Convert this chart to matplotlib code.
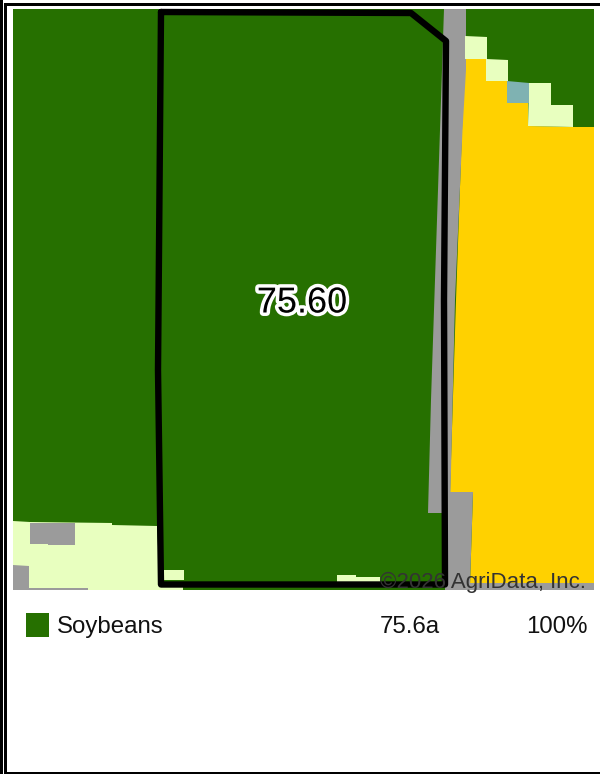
#!/usr/bin/env python3
"""Crop map of one field with its soybean acreage legend. Saves to out.png."""

import matplotlib
matplotlib.use("Agg")
import matplotlib.pyplot as plt
import matplotlib.patheffects as pe
from matplotlib.patches import Polygon, Rectangle

# Legend table
crop_names = ["Soybeans"]
crop_acres = ["75.6a"]
crop_shares = ["100%"]
field_label = "75.60"
credit = "©2026 AgriData, Inc."

GREEN = "#267000"
YELLOW = "#ffd100"
PALE = "#e8ffbf"
GREY = "#9b9b9b"
BLUE = "#7fb2b2"

# Map regions in pixels
road_upper = [(444, 9), (466, 9), (466, 70), (462.5, 130), (455, 300), (450.5, 492), (473, 492),
              (470, 585), (448, 585), (442, 513), (428, 513), (431, 400), (436, 250), (440, 130)]
yellow_area = [(464, 59), (486, 59), (486, 81), (507, 81), (507, 103), (528, 103), (528, 126),
               (573, 127), (594, 127), (594, 585), (470, 585), (473, 492), (450, 492),
               (456, 300), (462, 130)]
pale_sw = [(13, 521), (30, 522), (112, 523), (112, 525), (157, 526), (160, 587), (183, 587),
           (183, 590), (13, 590)]
grey_sw = [[(30, 523), (75, 523), (75, 545), (48, 545), (48, 544), (30, 544)],
           [(13, 565), (29, 566), (29, 588), (88, 588), (88, 590), (13, 590)]]
pale_steps = [[(465, 36), (487, 37), (487, 59), (465, 59)],
              [(486, 59), (508, 60), (508, 81), (486, 81)],
              [(529, 83), (551, 83), (551, 105), (573, 105), (573, 127), (528, 126)]]
blue_step = [(507, 81), (529, 83), (529, 103), (507, 103)]
pale_field = [[(164, 570), (184, 570), (184, 580), (164, 580)],
              [(337, 575), (356, 575), (356, 577), (380, 577), (380, 584), (337, 584)]]
boundary = [(161, 12), (411, 13), (446, 41), (444, 300), (445, 584.5), (161, 584.5),
            (158, 370), (161, 12)]

fig = plt.figure(figsize=(6, 7.74), dpi=100)
ax = fig.add_axes([0, 0, 1, 1])
ax.set_xlim(0, 600)
ax.set_ylim(774, 0)
ax.axis("off")

# page frame
ax.add_patch(Rectangle((0, 0), 600, 774, facecolor="white", edgecolor="none"))
ax.add_patch(Rectangle((4, 3), 596, 3, facecolor="black", edgecolor="none"))
ax.add_patch(Rectangle((0, 0), 3, 774, facecolor="black", edgecolor="none"))
ax.add_patch(Rectangle((4, 3), 3, 771, facecolor="black", edgecolor="none"))
ax.add_patch(Rectangle((4, 772), 596, 2, facecolor="black", edgecolor="none"))

# map
map_box = Rectangle((13, 9), 581, 581, facecolor=GREEN, edgecolor="none")
ax.add_patch(map_box)
ax.add_patch(Polygon(yellow_area, closed=True, facecolor=YELLOW, edgecolor="none"))
ax.add_patch(Polygon(road_upper, closed=True, facecolor=GREY, edgecolor="none"))
ax.add_patch(Rectangle((445, 583), 149, 7, facecolor=GREY, edgecolor="none"))
ax.add_patch(Polygon(pale_sw, closed=True, facecolor=PALE, edgecolor="none"))
for pts in grey_sw:
    ax.add_patch(Polygon(pts, closed=True, facecolor=GREY, edgecolor="none"))
for pts in pale_steps + pale_field:
    ax.add_patch(Polygon(pts, closed=True, facecolor=PALE, edgecolor="none"))
ax.add_patch(Polygon(blue_step, closed=True, facecolor=BLUE, edgecolor="none"))

# field boundary
xs, ys = zip(*boundary)
ax.plot(xs, ys, color="black", lw=4.6, solid_joinstyle="round", solid_capstyle="round")

ax.text(302, 312.5, field_label, ha="center", va="baseline", fontsize=26,
        family="Liberation Sans", color="black",
        path_effects=[pe.withStroke(linewidth=5, foreground="white")])
# credit is cut off by the map edge
credit_text = ax.text(586, 588, credit, ha="right", va="baseline", fontsize=16,
                      family="Liberation Sans", color="#333333")
credit_text.set_clip_path(map_box)

# legend row
ax.add_patch(Rectangle((26, 613), 23, 24, facecolor=GREEN, edgecolor="none"))
ax.text(57, 633, crop_names[0], ha="left", va="baseline", fontsize=17.3,
        family="Liberation Sans", color="#111111")
ax.text(440, 633, crop_acres[0], ha="right", va="baseline", fontsize=17.3,
        family="Liberation Sans", color="#111111")
ax.text(588, 633, crop_shares[0], ha="right", va="baseline", fontsize=17.3,
        family="Liberation Sans", color="#111111")

fig.savefig("out.png", dpi=100, facecolor="white")
